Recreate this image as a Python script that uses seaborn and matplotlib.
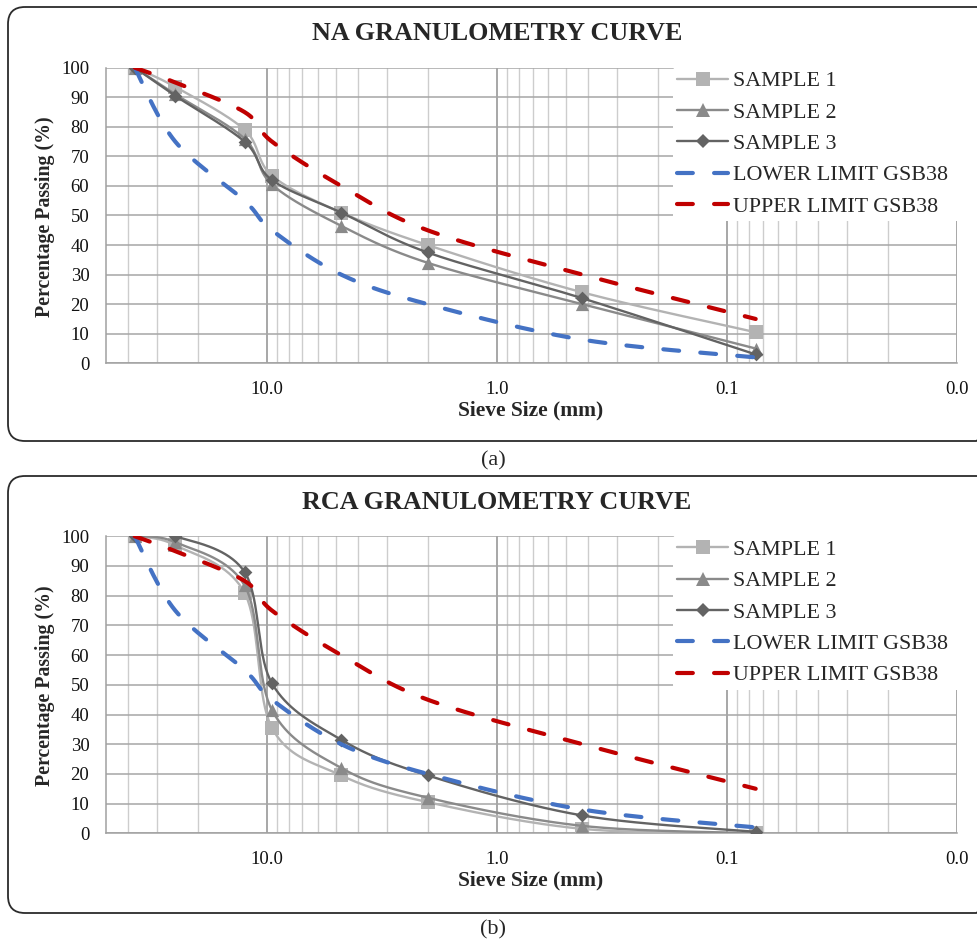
import numpy as np
import seaborn as sns
import matplotlib.pyplot as plt
from matplotlib.lines import Line2D
from matplotlib.patches import FancyBboxPatch
from matplotlib.ticker import FixedLocator, NullFormatter

# sieve sizes (mm)
sieve = [37.5, 25, 12.5, 9.5, 4.75, 2.0, 0.425, 0.075]

# GSB38 envelope
lower_limit = [100, 75, 55, 45, 30, 20, 8, 2]
upper_limit = [100, 95, 85, 75, 60, 45, 30, 15]

# natural aggregate
na_s1 = [100, 93.5, 79, 63.5, 51, 40, 24, 10.5]
na_s2 = [100, 91, 76, 60.5, 46.5, 34, 20, 5]
na_s3 = [100, 90.5, 75, 62, 51, 37.5, 22, 3]

# recycled concrete aggregate
rca_s1 = [100, 97, 81, 35.5, 19.5, 10.5, 1.5, 0]
rca_s2 = [100, 98, 83.5, 41.5, 22, 12, 2.5, 0]
rca_s3 = [100, 100, 88, 50.5, 31.5, 19.5, 6, 0.5]

x_ticks = [10, 1, 0.1, 0.01]
x_labels = ['10.0', '1.0', '0.1', '0.0']
legend_labels = ['SAMPLE 1', 'SAMPLE 2', 'SAMPLE 3', 'LOWER LIMIT GSB38', 'UPPER LIMIT GSB38']

c1, c2, c3 = '#b3b3b3', '#8a8a8a', '#636363'
blue, red = '#4472c4', '#c00000'
dash = (0, (3.8, 5.1))

sns.set_style('white')
plt.rcParams['font.family'] = ['Liberation Serif', 'DejaVu Serif']

W, H = 977, 947
fig = plt.figure(figsize=(W / 100, H / 100), dpi=100)


def smooth(x, y, n=40):
    # excel-like smoothed line (bezier through points, in log-x space)
    pts = np.column_stack([np.log10(x), y])
    P = np.vstack([pts[0], pts, pts[-1]])
    t = np.linspace(0, 1, n)[:, None]
    out = []
    for i in range(1, len(P) - 2):
        p0, p1, p2, p3 = P[i - 1], P[i], P[i + 1], P[i + 2]
        k1 = p1 + (p2 - p0) / 6
        k2 = p2 - (p3 - p1) / 6
        seg = (1 - t) ** 3 * p1 + 3 * (1 - t) ** 2 * t * k1 + 3 * (1 - t) * t ** 2 * k2 + t ** 3 * p2
        out.append(seg if i == 1 else seg[1:])
    seg = np.vstack(out)
    return 10 ** seg[:, 0], seg[:, 1]


# background boxes
bg = fig.add_axes([0, 0, 1, 1], zorder=-5)
bg.set_xlim(0, W)
bg.set_ylim(H, 0)
bg.axis('off')
for top, bot in [(7, 441), (476, 913)]:
    bg.add_patch(FancyBboxPatch((8, top), 985, bot - top,
                                boxstyle='round,pad=0,rounding_size=17',
                                fill=False, ec='#2b2b2b', lw=1.3))


def panel(top_px, bot_px, s1, s2, s3, title, cap, cap_y):
    h = bot_px - top_px
    ax = fig.add_axes([106 / W, 1 - bot_px / H, (957 - 106) / W, h / H])
    ax.set_xscale('log')

    series = [(s1, c1, 's', 9.5), (s2, c2, '^', 9.5), (s3, c3, 'D', 7)]
    z = 3
    for vals, col, mk, ms in series:
        sx, sy = smooth(sieve, vals)
        sns.lineplot(x=sx, y=sy, sort=False, estimator=None, color=col, lw=1.7,
                     ax=ax, legend=False, zorder=z)
        sns.scatterplot(x=sieve, y=vals, marker=mk, s=ms ** 2, color=col,
                        linewidth=0, ax=ax, legend=False, zorder=z + 0.5)
        z += 1
    for vals, col in [(lower_limit, blue), (upper_limit, red)]:
        sx, sy = smooth(sieve, vals)
        sns.lineplot(x=sx, y=sy, sort=False, estimator=None, color=col, lw=3,
                     linestyle=dash, dash_capstyle='round', ax=ax, legend=False, zorder=z)
        z += 1

    ax.set_xlim(50, 0.01)
    ax.set_ylim(0, 100)
    ax.set_yticks(range(0, 101, 10))
    ax.xaxis.set_major_locator(FixedLocator(x_ticks))
    ax.set_xticklabels(x_labels)
    minors = [20, 30, 40] + [k * 10.0 ** e for e in (-2, -1, 0) for k in range(2, 10)]
    ax.xaxis.set_minor_locator(FixedLocator(minors))
    ax.xaxis.set_minor_formatter(NullFormatter())

    ax.grid(True, which='major', axis='y', color='#a6a6a6', lw=1.1)
    ax.grid(True, which='major', axis='x', color='#a0a0a0', lw=1.3)
    ax.grid(True, which='minor', axis='x', color='#cdcdcd', lw=1.0)
    ax.set_axisbelow(True)
    for s in ['top', 'right']:
        ax.spines[s].set_visible(False)
    for s in ['left', 'bottom']:
        ax.spines[s].set_color('#a0a0a0')
        ax.spines[s].set_linewidth(1.1)
    ax.tick_params(axis='both', which='major', length=5, width=1, color='#a0a0a0',
                   labelsize=13.5, labelcolor='#111111')
    ax.tick_params(axis='y', pad=7)
    ax.tick_params(axis='x', pad=8)
    ax.tick_params(axis='x', which='minor', length=0)

    handles = [
        Line2D([], [], color=c1, lw=1.7, marker='s', ms=9.5, mew=0),
        Line2D([], [], color=c2, lw=1.7, marker='^', ms=9.5, mew=0),
        Line2D([], [], color=c3, lw=1.7, marker='D', ms=7, mew=0),
        Line2D([], [], color=blue, lw=3, linestyle=dash, dash_capstyle='round'),
        Line2D([], [], color=red, lw=3, linestyle=dash, dash_capstyle='round'),
    ]
    x0 = (673 - 106) / 851
    y_top = (h + 1) / h
    leg = ax.legend(handles, legend_labels, loc='upper left',
                    bbox_to_anchor=(x0, y_top - 0.6, 1.005 - x0, 0.6), mode='expand',
                    frameon=True, facecolor='white', edgecolor='none', framealpha=1,
                    fontsize=15.8, handlelength=2.3, handletextpad=0.25,
                    labelspacing=0.5, borderpad=0.2, borderaxespad=0)
    leg.set_zorder(20)

    fig.text(497 / W, 1 - (top_px - 34) / H, title, ha='center', va='center',
             fontsize=18.8, fontweight='bold')
    fig.text(45 / W, 1 - (top_px + 149) / H, 'Percentage Passing (%)', rotation=90,
             ha='center', va='center', fontsize=14.3, fontweight='bold')
    fig.text(531 / W, 1 - (bot_px + 47) / H, 'Sieve Size (mm)', ha='center',
             va='center', fontsize=15.5, fontweight='bold')
    fig.text(493 / W, 1 - cap_y / H, cap, ha='center', va='center', fontsize=16)
    return ax


panel(67.7, 363.3, na_s1, na_s2, na_s3, 'NA GRANULOMETRY CURVE', '(a)', 461)
panel(536.3, 833.3, rca_s1, rca_s2, rca_s3, 'RCA GRANULOMETRY CURVE', '(b)', 930)

fig.savefig('out.png', dpi=100)
